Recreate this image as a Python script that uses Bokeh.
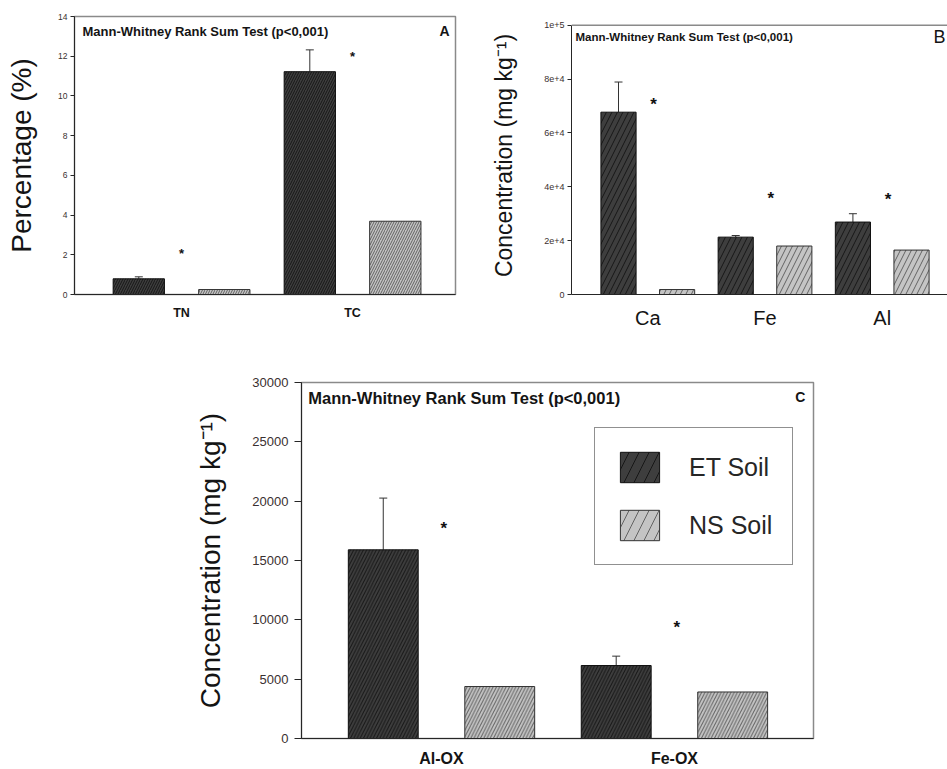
from bokeh.plotting import figure
from bokeh.layouts import row, column
from bokeh.models import (ColumnDataSource, FixedTicker, Range1d, Span,
                          Whisker, TeeHead, Label, Legend, LegendItem)
from bokeh.core.properties import value
from bokeh.embed import file_html
from bokeh.resources import INLINE

FONT = "Liberation Sans"

# ---------------- data ----------------
series_names = ["ET Soil", "NS Soil"]
title_text = "Mann-Whitney Rank Sum Test (p<0,001)"

a_categories = ["TN", "TC"]
a_et = [0.79, 11.22]
a_et_err = [0.10, 1.10]
a_ns = [0.25, 3.69]
a_star = [2.18, 12.11]
a_yticks = [0, 2, 4, 6, 8, 10, 12, 14]

b_categories = ["Ca", "Fe", "Al"]
b_et = [67700, 21300, 26900]
b_et_err = [11200, 600, 3100]
b_ns = [1850, 18000, 16500]
b_star = [71400, 36400, 35900]
b_yticks = [0, 20000, 40000, 60000, 80000, 100000]
b_ytick_labels = ["0", "2e+4", "4e+4", "6e+4", "8e+4", "1e+5"]

c_categories = ["Al-OX", "Fe-OX"]
c_et = [15900, 6150]
c_et_err = [4360, 790]
c_ns = [4380, 3920]
c_star = [17900, 9490]
c_yticks = [0, 5000, 10000, 15000, 20000, 25000, 30000]

# ---------------- style ----------------
DARK = "#3e3e3e"
LIGHT = "#c4c4c4"
DARK_HATCH = "#161616"
LIGHT_HATCH = "#626262"
AXIS = "#262626"
FRAME = "#8a8a8a"
TICK_TXT = "#3a3030"
TXT = "#141414"


def bar_style(dark, scale):
    if dark:
        return dict(fill_color=DARK, line_color="#111111", line_width=1,
                    hatch_pattern="/", hatch_color=DARK_HATCH,
                    hatch_scale=scale, hatch_weight=1)
    return dict(fill_color=LIGHT, line_color="#333333", line_width=1,
                hatch_pattern="/", hatch_color=LIGHT_HATCH,
                hatch_scale=scale, hatch_weight=1)


def make_panel(cats, et, err, ns, star, yticks, ytick_labels, xr, yr, w, h,
               borders, hatch_scale, ylabel, ylabel_size, ylabel_standoff,
               ytick_size, tick_out, ytick_standoff, xlabel_size, xlabel_style,
               xlabel_standoff, star_size, star_dx):
    p = figure(width=w, height=h, x_range=Range1d(*xr), y_range=Range1d(*yr),
               output_backend="svg", toolbar_location=None,
               min_border_left=borders[0], min_border_right=borders[1],
               min_border_top=borders[2], min_border_bottom=borders[3])
    p.title.visible = False
    p.grid.visible = False
    p.background_fill_color = "white"
    p.border_fill_color = "white"
    p.outline_line_color = FRAME
    p.outline_line_width = 1.5

    idx = list(range(len(cats)))
    src = ColumnDataSource(dict(
        x_et=[i - 0.25 for i in idx], x_ns=[i + 0.25 for i in idx],
        et=et, ns=ns, upper=[a + b for a, b in zip(et, err)],
        xs=[i + star_dx for i in idx], ys=star, st=["*"] * len(idx)))

    p.vbar(x="x_et", top="et", width=0.3, source=src, **bar_style(True, hatch_scale))
    p.vbar(x="x_ns", top="ns", width=0.3, source=src, **bar_style(False, hatch_scale))

    wh = Whisker(base="x_et", upper="upper", lower="et", source=src,
                 line_color="#333333", line_width=1,
                 upper_head=TeeHead(size=8, line_color="#333333", line_width=1),
                 lower_head=None)
    p.add_layout(wh)

    p.text(x="xs", y="ys", text="st", source=src, text_font=value(FONT),
           text_font_style="bold", text_font_size=star_size,
           text_align="center", text_baseline="middle", y_offset=2,
           text_color="#111111")

    ya = p.yaxis[0]
    ya.ticker = FixedTicker(ticks=yticks)
    ya.major_label_overrides = {t: l for t, l in zip(yticks, ytick_labels)}
    ya.major_tick_out = tick_out
    ya.major_tick_in = 0
    ya.minor_tick_line_color = None
    ya.axis_line_color = AXIS
    ya.major_tick_line_color = AXIS
    ya.major_label_text_font = FONT
    ya.major_label_text_font_size = ytick_size
    ya.major_label_text_color = TICK_TXT
    ya.major_label_standoff = ytick_standoff
    ya.axis_label = ylabel
    ya.axis_label_text_font = FONT
    ya.axis_label_text_font_style = "normal"
    ya.axis_label_text_font_size = ylabel_size
    ya.axis_label_text_color = TXT
    ya.axis_label_standoff = ylabel_standoff

    xa = p.xaxis[0]
    xa.ticker = FixedTicker(ticks=idx)
    xa.major_label_overrides = {i: c for i, c in zip(idx, cats)}
    xa.major_tick_line_color = None
    xa.major_tick_out = 0
    xa.major_tick_in = 0
    xa.minor_tick_line_color = None
    xa.axis_line_color = AXIS
    xa.major_label_text_font = FONT
    xa.major_label_text_font_size = xlabel_size
    xa.major_label_text_font_style = xlabel_style
    xa.major_label_text_color = TXT
    xa.major_label_standoff = xlabel_standoff
    return p, src


# ---------- Panel A ----------
pA, _ = make_panel(a_categories, a_et, a_et_err, a_ns, a_star, a_yticks,
                   [str(t) for t in a_yticks], (-0.626, 1.602), (0, 14), 488, 348,
                   (74, 33, 16, 54), 5, "Percentage (%)", "28px", 18, "8.5px", 4, 3,
                   "12.5px", "bold", 11, "13px", 0.0)
pA.add_layout(Label(x=-0.579, y=13.24, text=title_text, text_font=FONT,
                    text_font_style="bold", text_font_size="13px",
                    text_baseline="middle", text_color=TXT))
pA.add_layout(Label(x=1.538, y=13.29, text="A", text_font=FONT,
                    text_font_style="bold", text_font_size="14px",
                    text_align="center", text_baseline="middle", text_color=TXT))

# ---------- Panel B (frame continues past the right edge) ----------
pB, _ = make_panel(b_categories, b_et, b_et_err, b_ns, b_star, b_yticks,
                   b_ytick_labels, (-0.651, 2.557), (0, 103230), 459, 348,
                   (82, 0, 16, 54), 11, "Concentration (mg kg\u207b\u00b9)", "23px", 24,
                   "9px", 4, 3, "20px", "normal", 12, "17px", 0.05)
pB.outline_line_color = None
pB.yaxis[0].bounds = (b_yticks[0], b_yticks[-1])
pB.add_layout(Span(location=b_yticks[-1], dimension="width",
                   line_color=FRAME, line_width=1.5))
pB.add_layout(Label(x=-0.617, y=95800, text=title_text, text_font=FONT,
                    text_font_style="bold", text_font_size="11.5px",
                    text_baseline="middle", text_color=TXT))
pB.add_layout(Label(x=2.54, y=95800, text="B", text_font=FONT,
                    text_font_size="18px", text_align="right",
                    text_baseline="middle", text_color=TXT))

# ---------- Panel C ----------
pC, srcC = make_panel(c_categories, c_et, c_et_err, c_ns, c_star, c_yticks,
                      [str(t) for t in c_yticks], (-0.601, 1.597), (0, 30000),
                      947, 421, (301, 134, 34, 30), 6.5,
                      "Concentration (mg kg\u207b\u00b9)", "28px", 23,
                      "13px", 7, 6, "16px", "bold", 11, "17px", 0.01)
pC.add_layout(Label(x=-0.572, y=28690, text=title_text, text_font=FONT,
                    text_font_style="bold", text_font_size="16.5px",
                    text_baseline="middle", text_color=TXT))
pC.add_layout(Label(x=1.54, y=28800, text="C", text_font=FONT,
                    text_font_style="bold", text_font_size="14px",
                    text_align="center", text_baseline="middle", text_color=TXT))

# legend swatches: hidden copies of the bars with a coarser hatch
leg_et = pC.vbar(x="x_et", top="et", width=0.3, source=srcC, visible=False,
                 **bar_style(True, 20))
leg_ns = pC.vbar(x="x_ns", top="ns", width=0.3, source=srcC, visible=False,
                 **bar_style(False, 20))
legend = Legend(items=[LegendItem(label=series_names[0], renderers=[leg_et]),
                       LegendItem(label=series_names[1], renderers=[leg_ns])],
                location=(293, 173), glyph_width=49, glyph_height=38,
                label_standoff=25, padding=20, spacing=20, margin=0,
                border_line_color="#222222", border_line_width=1.5,
                label_text_font=FONT, label_text_font_size="25px",
                label_text_color="#262626", background_fill_color="white",
                background_fill_alpha=1, inactive_fill_alpha=0)
pC.add_layout(legend)

layout = column(row(pA, pB), pC)

with open("out.html", "w") as f:
    f.write(file_html(layout, INLINE))
